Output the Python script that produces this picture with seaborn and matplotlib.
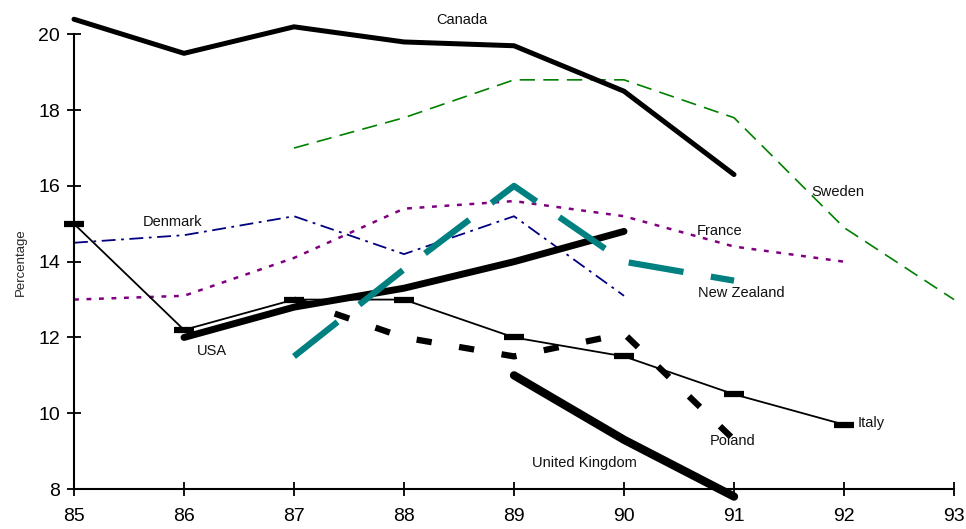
import pandas as pd
import matplotlib.pyplot as plt
import seaborn as sns

# data (year 85..93, percentage)
canada_years = [85, 86, 87, 88, 89, 90, 91]
canada_vals = [20.4, 19.5, 20.2, 19.8, 19.7, 18.5, 16.3]

sweden_years = [87, 88, 89, 90, 91, 92, 93]
sweden_vals = [17.0, 17.8, 18.8, 18.8, 17.8, 14.9, 13.0]

denmark_years = [85, 86, 87, 88, 89, 90]
denmark_vals = [14.5, 14.7, 15.2, 14.2, 15.2, 13.1]

france_years = [85, 86, 87, 88, 89, 90, 91, 92]
france_vals = [13.0, 13.1, 14.1, 15.4, 15.6, 15.2, 14.4, 14.0]

nz_years = [87, 88, 89, 90, 91]
nz_vals = [11.5, 13.8, 16.0, 14.0, 13.5]

usa_years = [86, 87, 88, 89, 90]
usa_vals = [12.0, 12.8, 13.3, 14.0, 14.8]

italy_years = [85, 86, 87, 88, 89, 90, 91, 92]
italy_vals = [15.0, 12.2, 13.0, 13.0, 12.0, 11.5, 10.5, 9.7]

poland_years = [87, 88, 89, 90, 91]
poland_vals = [13.0, 12.0, 11.5, 12.1, 9.3]

uk_years = [89, 90, 91]
uk_vals = [11.0, 9.3, 7.8]

sns.set_style("ticks")
plt.rcParams['font.family'] = ['Liberation Sans', 'DejaVu Sans']
plt.rcParams['lines.scale_dashes'] = False

fig = plt.figure(figsize=(9.66, 5.29), dpi=100)
ax = fig.add_axes([0.0766, 0.0756, 0.9110, 0.8594])


def draw(years, vals, **kw):
    df = pd.DataFrame({"year": years, "pct": vals})
    sns.lineplot(data=df, x="year", y="pct", ax=ax, errorbar=None,
                 clip_on=False, **kw)


draw(sweden_years, sweden_vals, color="#008000", linewidth=1.2,
     linestyle=(0, (11, 6)))
draw(france_years, france_vals, color="#800080", linewidth=1.8,
     linestyle=(0, (3.5, 5.5)))
draw(denmark_years, denmark_vals, color="#000080", linewidth=1.3,
     linestyle=(0, (10, 4, 2, 4)))
draw(canada_years, canada_vals, color="black", linewidth=3.6,
     solid_capstyle="round")
draw(italy_years, italy_vals, color="black", linewidth=1.3,
     marker="_", markersize=15, markeredgewidth=4.5,
     markeredgecolor="black")
draw(usa_years, usa_vals, color="black", linewidth=5,
     solid_capstyle="round")
draw(nz_years, nz_vals, color="#008080", linewidth=4.5,
     linestyle=(0, (40, 20)))
draw(poland_years, poland_vals, color="black", linewidth=4.5,
     linestyle=(0, (11, 20)))
draw(uk_years, uk_vals, color="black", linewidth=6,
     solid_capstyle="round")

# country labels
labels = [
    ("Canada", 88.53, 20.37),
    ("Sweden", 91.94, 15.84),
    ("Denmark", 85.9, 15.05),
    ("France", 90.87, 14.81),
    ("New Zealand", 91.07, 13.17),
    ("USA", 86.25, 11.64),
    ("United Kingdom", 89.64, 8.69),
    ("Poland", 90.99, 9.26),
    ("Italy", 92.25, 9.74),
]
for name, x, y in labels:
    ax.text(x, y, name, fontsize=10.5, ha="center", va="center",
            color="#111111", clip_on=False)

ax.set_xlim(85, 93)
ax.set_ylim(8, 20)
ax.set_xticks(range(85, 94))
ax.set_yticks(range(8, 21, 2))
ax.set_xlabel("")
ax.set_ylabel("Percentage", fontsize=9.5, labelpad=8)
ax.tick_params(axis="both", direction="inout", length=10, width=1.3,
               labelsize=14, colors="black", pad=5, bottom=True, left=True)
ax.tick_params(axis="x", pad=9)
sns.despine(ax=ax)
for side in ["left", "bottom"]:
    ax.spines[side].set_linewidth(1.5)
    ax.spines[side].set_color("black")

fig.savefig("out.png", dpi=100)
